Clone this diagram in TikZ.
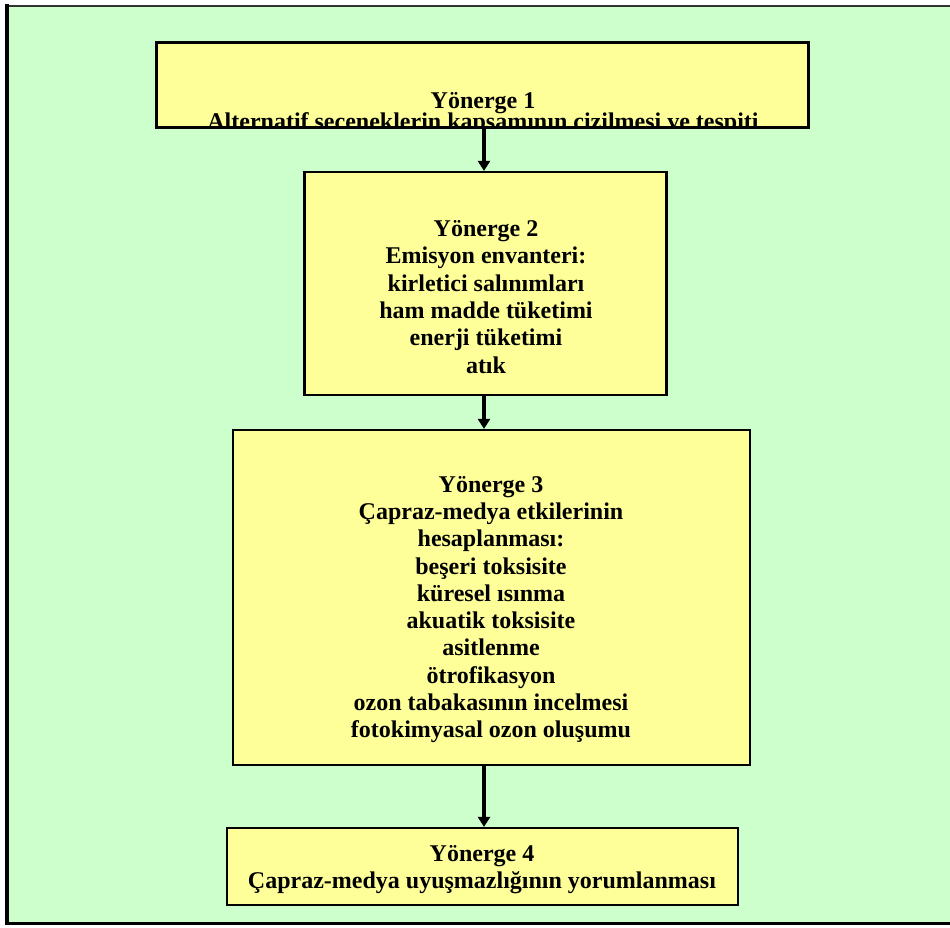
\documentclass[tikz,border=0pt]{standalone}
\usepackage{fontspec}
\setmainfont{Liberation Serif}
\usetikzlibrary{arrows.meta}
\definecolor{bggreen}{HTML}{CCFFCC}
\definecolor{boxyellow}{HTML}{FFFF99}
\tikzset{
  box/.style={draw=black, line width=2.2pt, fill=boxyellow, rectangle, inner sep=0pt},
  txt/.style={align=center, inner sep=0pt, font=\fontsize{24}{27.3}\selectfont\bfseries},
  flow/.style={line width=3.5pt, -{Triangle[width=12pt,length=10pt]}}
}
\begin{document}
\begin{tikzpicture}[x=1pt,y=-1pt]
\useasboundingbox (0,0) rectangle (950,927);
\fill[white] (0,0) rectangle (950,927);
\begin{scope}
\clip (0,0) rectangle (950,927);
\fill[bggreen] (7,6) rectangle (970,923);
\draw[black!80, line width=2pt] (7,6) -- (970,6);
\draw[black, line width=4pt] (7,4) -- (7,923);
\draw[black, line width=3pt] (5,923) -- (970,923);
\end{scope}
% boxes
\node[box, minimum width=651pt, minimum height=84pt] (b1) at (482.5,85) {};
\node[box, minimum width=362pt, minimum height=223pt] (b2) at (485.5,283.5) {};
\node[box, minimum width=517pt, minimum height=335pt] (b3) at (491.5,597.5) {};
\node[box, minimum width=511pt, minimum height=77pt] (b4) at (482.5,866.5) {};
% texts
\begin{scope}
\clip (157,43) rectangle (808,126);
\node[txt] (t1) at (483,113.8) {Yönerge 1\\[-6pt]Alternatif seçeneklerin kapsamının çizilmesi ve tespiti};
\end{scope}
\draw[black, line width=2.2pt] (b1.north west) rectangle (b1.south east);
\node[txt] (t2) at (486,297) {Yönerge 2\\Emisyon envanteri:\\kirletici salınımları\\ham madde tüketimi\\enerji tüketimi\\atık};
\node[txt] (t3) at (491,609.5) {Yönerge 3\\Çapraz-medya etkilerinin\\hesaplanması:\\beşeri toksisite\\küresel ısınma\\akuatik toksisite\\asitlenme\\ötrofikasyon\\ozon tabakasının incelmesi\\fotokimyasal ozon oluşumu};
\node[txt] (t4) at (482,869.5) {Yönerge 4\\Çapraz-medya uyuşmazlığının yorumlanması};
% arrows
\draw[flow] (b1.south -| 484,0) -- (b2.north -| 484,0);
\draw[flow] (b2.south -| 484,0) -- (b3.north -| 484,0);
\draw[flow] (b3.south -| 484,0) -- (b4.north -| 484,0);
\end{tikzpicture}
\end{document}
